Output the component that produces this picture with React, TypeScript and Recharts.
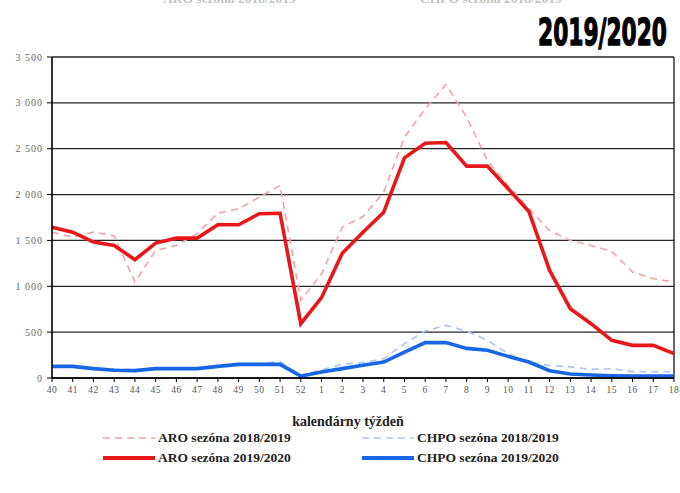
import React from 'react';
import { LineChart, Line, XAxis, YAxis, CartesianGrid, ReferenceLine } from 'recharts';

const weeks = ['40', '41', '42', '43', '44', '45', '46', '47', '48', '49', '50', '51', '52', '1', '2', '3', '4', '5', '6', '7', '8', '9', '10', '11', '12', '13', '14', '15', '16', '17', '18'];
const aro1819 = [1590, 1536, 1590, 1550, 1046, 1391, 1445, 1573, 1797, 1845, 1972, 2099, 846, 1137, 1645, 1760, 2026, 2625, 2934, 3199, 2843, 2371, 2099, 1845, 1609, 1500, 1445, 1380, 1155, 1083, 1046];
const aro1920 = [1645, 1590, 1482, 1445, 1290, 1471, 1525, 1525, 1671, 1671, 1791, 1796, 592, 876, 1360, 1590, 1808, 2401, 2560, 2567, 2310, 2310, 2063, 1816, 1173, 756, 592, 411, 356, 356, 266];
const chpo1819 = [120, 120, 110, 95, 90, 110, 110, 110, 130, 150, 155, 180, 30, 90, 150, 170, 211, 375, 512, 574, 512, 411, 266, 174, 138, 121, 94, 102, 70, 70, 70];
const chpo1920 = [127, 127, 102, 84, 80, 102, 102, 102, 127, 149, 149, 149, 20, 65, 102, 138, 174, 283, 386, 386, 323, 302, 236, 174, 80, 44, 32, 25, 20, 20, 20];
const yTicks = [0, 500, 1000, 1500, 2000, 2500, 3000, 3500];

const seriesNames = {
  aro1819: 'ARO sezóna 2018/2019',
  aro1920: 'ARO sezóna 2019/2020',
  chpo1819: 'CHPO sezóna 2018/2019',
  chpo1920: 'CHPO sezóna 2019/2020',
};
const title = '2019/2020';
const xLabel = 'kalendárny týždeň';

const data = weeks.map((w, i) => ({
  week: w,
  aro1819: aro1819[i],
  aro1920: aro1920[i],
  chpo1819: chpo1819[i],
  chpo1920: chpo1920[i],
}));

const serif = '"Liberation Serif", "DejaVu Serif", serif';
const C = {
  aro1819: '#f2a3a3',
  aro1920: '#e8171a',
  chpo1819: '#abc6f2',
  chpo1920: '#1766e3',
};

const fmt = (v: number) => (v >= 1000 ? `${Math.floor(v / 1000)} ${String(v % 1000).padStart(3, '0')}` : String(v));

export default function App() {
  return (
    <div style={{ position: 'absolute', left: 0, top: 0, width: 680, height: 493, background: '#fff', overflow: 'hidden' }}>
      <LineChart width={680} height={493} data={data} margin={{ top: 57, right: 6, left: 12, bottom: 85 }}>
        <CartesianGrid horizontal vertical={false} stroke="#000" strokeWidth={1.3} strokeOpacity={0.85} />
        <XAxis
          dataKey="week"
          interval={0}
          tick={{ fontSize: 9.5, fill: '#555', fontFamily: serif, letterSpacing: 0.5 }}
          tickLine={{ stroke: '#000' }}
          axisLine={{ stroke: '#000', strokeWidth: 1.6 }}
          tickSize={4}
          tickMargin={4}
        />
        <YAxis
          width={40}
          domain={[0, 3500]}
          ticks={yTicks}
          tickFormatter={fmt}
          tick={{ fontSize: 10, fill: '#666', fontFamily: serif, letterSpacing: 1 }}
          tickLine={{ stroke: '#000' }}
          axisLine={{ stroke: '#000', strokeWidth: 1.6 }}
          tickSize={5}
          tickMargin={4}
        />
        <ReferenceLine x="18" stroke="#000" strokeWidth={1.2} />
        <Line dataKey="aro1819" stroke={C.aro1819} strokeWidth={1.6} strokeDasharray="7 5" dot={false} isAnimationActive={false} />
        <Line dataKey="chpo1819" stroke={C.chpo1819} strokeWidth={1.6} strokeDasharray="7 5" dot={false} isAnimationActive={false} />
        <Line dataKey="aro1920" stroke={C.aro1920} strokeWidth={3.6} dot={false} isAnimationActive={false} />
        <Line dataKey="chpo1920" stroke={C.chpo1920} strokeWidth={3.6} dot={false} isAnimationActive={false} />
      </LineChart>
      <svg width={680} height={493} style={{ position: 'absolute', left: 0, top: 0, pointerEvents: 'none' }}>
        <g opacity={0.35}>
          <text x={163} y={3} fontFamily={serif} fontWeight="bold" fontSize={13.5} fill="#555">{seriesNames.aro1819}</text>
          <text x={420} y={3} fontFamily={serif} fontWeight="bold" fontSize={13.5} fill="#555">{seriesNames.chpo1819}</text>
        </g>
        <text x={538} y={45} fontFamily='"DejaVu Sans", sans-serif' fontWeight="bold" fontSize={38} textLength={129} lengthAdjust="spacingAndGlyphs" fill="#000" stroke="#000" strokeWidth={1.4}>{title}</text>
        <text x={348} y={426} textAnchor="middle" fontFamily={serif} fontWeight="bold" fontSize={14} fill="#222">{xLabel}</text>
        <line x1={103} x2={155} y1={438} y2={438} stroke={C.aro1819} strokeWidth={1.6} strokeDasharray="7 5" />
        <text x={158} y={442} fontFamily={serif} fontWeight="bold" fontSize={13.5} fill="#222">{seriesNames.aro1819}</text>
        <line x1={103} x2={155} y1={458} y2={458} stroke={C.aro1920} strokeWidth={4} />
        <text x={158} y={462} fontFamily={serif} fontWeight="bold" fontSize={13.5} fill="#222">{seriesNames.aro1920}</text>
        <line x1={362} x2={414} y1={438} y2={438} stroke={C.chpo1819} strokeWidth={1.6} strokeDasharray="7 5" />
        <text x={417} y={442} fontFamily={serif} fontWeight="bold" fontSize={13.5} fill="#222">{seriesNames.chpo1819}</text>
        <line x1={362} x2={414} y1={458} y2={458} stroke={C.chpo1920} strokeWidth={4} />
        <text x={417} y={462} fontFamily={serif} fontWeight="bold" fontSize={13.5} fill="#222">{seriesNames.chpo1920}</text>
      </svg>
    </div>
  );
}
